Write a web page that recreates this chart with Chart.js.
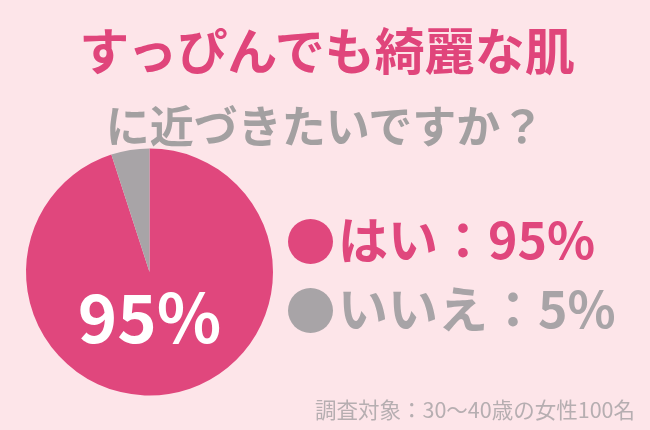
<!DOCTYPE html>
<html><head><meta charset="utf-8">
<script src="https://cdn.jsdelivr.net/npm/chart.js@4"></script>
<style>
html,body{margin:0;padding:0;}
body{width:650px;height:430px;background:#fde5e9;position:relative;overflow:hidden;font-family:"Noto Sans CJK JP","Noto Sans",sans-serif;}
#c{position:absolute;left:0;top:0;}
.t1{position:absolute;left:0;width:650px;top:23px;text-align:center;font-size:50px;font-weight:700;color:#e0457b;line-height:1;white-space:nowrap;padding-left:4px;box-sizing:border-box;}
.t2{position:absolute;left:0;width:650px;top:102px;text-align:center;font-size:44px;font-weight:700;color:#a3a0a1;line-height:1;white-space:nowrap;padding-left:0px;box-sizing:border-box;}
.leg{position:absolute;left:288px;font-size:50px;font-weight:700;line-height:1;white-space:nowrap;}
.leg .dot{display:inline-block;width:45px;height:45px;border-radius:50%;vertical-align:middle;margin-right:5px;position:relative;top:-4px;}
.foot{position:absolute;left:315px;top:398px;font-size:21.5px;color:#b6aeb1;line-height:1;white-space:nowrap;}
</style></head>
<body>
<canvas id="c" width="650" height="430"></canvas>
<div class="t1" id="t1"></div>
<div class="t2" id="t2"></div>
<div id="legend"></div>
<div class="foot" id="foot"></div>
<script>
const titleLine1 = "すっぴんでも綺麗な肌";
const titleLine2 = "に近づきたいですか？";
const categories = ["はい", "いいえ"];
const values = [95, 5];
const colors = ["#e0477d", "#a8a4a7"];
const footnote = "調査対象：30〜40歳の女性100名";

document.getElementById('t1').textContent = titleLine1;
document.getElementById('t2').textContent = titleLine2;
document.getElementById('foot').textContent = footnote;

const legTops = [212, 281];
const legend = document.getElementById('legend');
categories.forEach((c, i) => {
  const d = document.createElement('div');
  d.className = 'leg';
  d.style.top = legTops[i] + 'px';
  d.style.color = colors[i];
  const dot = document.createElement('span');
  dot.className = 'dot';
  dot.style.background = colors[i];
  d.appendChild(dot);
  d.appendChild(document.createTextNode(c + '：' + values[i] + '%'));
  legend.appendChild(d);
});

const labelPlugin = {
  id: 'mainLabel',
  afterDatasetsDraw(chart) {
    const arc = chart.getDatasetMeta(0).data[0];
    const ctx = chart.ctx;
    ctx.save();
    ctx.fillStyle = '#ffffff';
    ctx.font = '700 67px "Noto Sans CJK JP", "Noto Sans", sans-serif';
    ctx.textAlign = 'center';
    ctx.textBaseline = 'middle';
    ctx.fillText(values[0] + '%', arc.x, arc.y + arc.outerRadius * 0.37);
    ctx.restore();
  }
};

new Chart(document.getElementById('c'), {
  type: 'pie',
  data: {
    labels: categories,
    datasets: [{ data: values, backgroundColor: colors, borderWidth: 0 }]
  },
  options: {
    responsive: false,
    animation: false,
    layout: { padding: { left: 26, right: 377, top: 148, bottom: 34 } },
    plugins: { legend: { display: false }, tooltip: { enabled: false } }
  },
  plugins: [labelPlugin]
});
</script>
</body></html>
